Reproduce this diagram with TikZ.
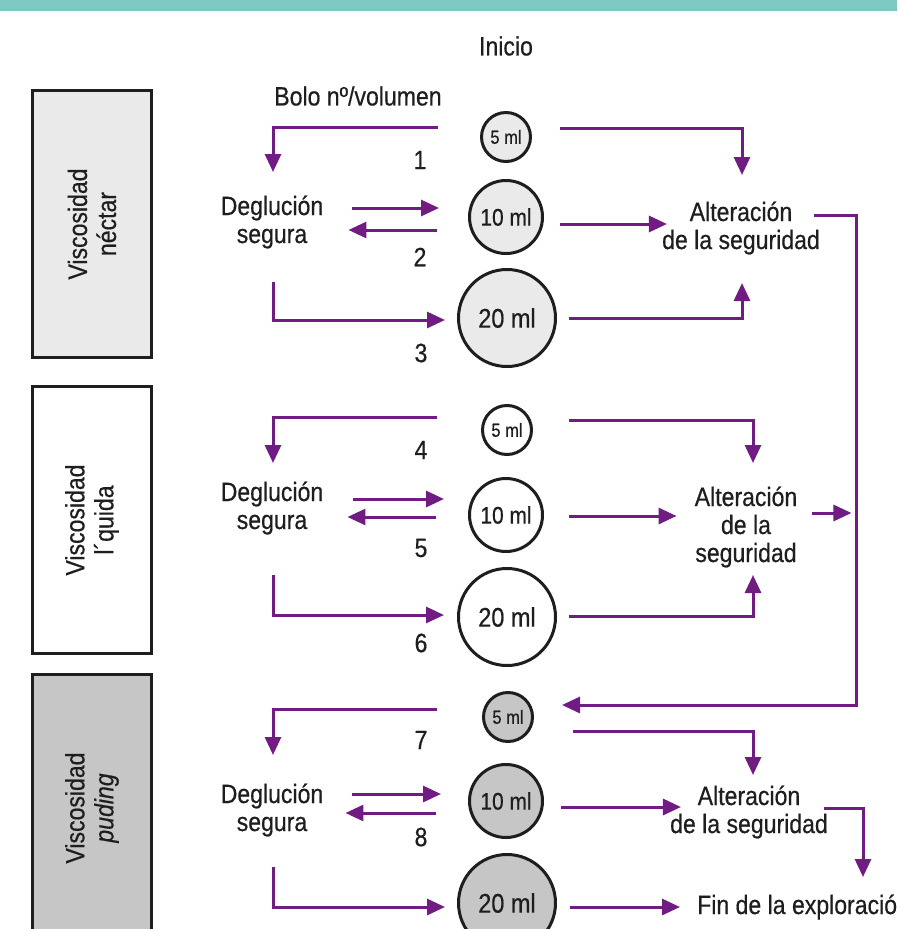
\documentclass[tikz,border=0pt]{standalone}
\usepackage{fontspec}
\setmainfont{Liberation Sans}[FakeStretch=0.87,FakeBold=0.5]
\usetikzlibrary{arrows.meta}
\definecolor{flowpurple}{RGB}{112,28,130}
\definecolor{bandteal}{RGB}{126,200,194}
\definecolor{inkgray}{RGB}{30,30,30}
\definecolor{nectargray}{RGB}{234,234,234}
\definecolor{pudinggray}{RGB}{198,198,198}

\begin{document}
\begin{tikzpicture}[x=1pt,y=-1pt,
  lbl/.style={inner sep=0pt,text=inkgray,align=center,font=\fontsize{26.5}{28}\selectfont},
  visc/.style={draw=inkgray,line width=3pt,rotate=90,minimum width=267pt,minimum height=119pt,
    align=center,text=inkgray,font=\fontsize{26.5}{29}\selectfont},
  vol/.style={circle,draw=inkgray,line width=3pt,inner sep=0pt,text=inkgray},
  vsmall/.style={vol,minimum size=49pt,font=\fontsize{19}{20}\selectfont},
  vmid/.style={vol,minimum size=73pt,font=\fontsize{24}{25}\selectfont},
  vbig/.style={vol,minimum size=97pt,font=\fontsize{27}{28}\selectfont},
  flow/.style={draw=flowpurple,line width=3pt,-{Triangle[length=18pt,width=16pt]}}]
  \useasboundingbox (0,0) rectangle (897,929);
  \clip (0,0) rectangle (897,929);
  \fill[white] (0,0) rectangle (897,929);
  \fill[bandteal] (0,0) rectangle (897,11);

  % viscosity boxes
  \node[visc,fill=nectargray] (nectar) at (92,224) {Viscosidad\\néctar};
  \node[visc,fill=white] (liquida) at (92,520) {Viscosidad\\l´quida};
  \node[visc,fill=pudinggray] (puding) at (92,808) {Viscosidad\\\textit{puding}};

  \node[lbl] (inicio) at (506,46) {Inicio};
  \node[lbl] (bolo) at (358,96) {Bolo nº/volumen};

  % bolus volumes
  \node[vsmall,fill=nectargray] (v5a) at (506,137) {5 ml};
  \node[vmid,fill=nectargray] (v10a) at (506,217) {10 ml};
  \node[vbig,fill=nectargray] (v20a) at (507,318) {20 ml};
  \node[vsmall,fill=white] (v5b) at (507,430) {5 ml};
  \node[vmid,fill=white] (v10b) at (506,515) {10 ml};
  \node[vbig,fill=white] (v20b) at (507,617) {20 ml};
  \node[vsmall,fill=pudinggray] (v5c) at (508,717) {5 ml};
  \node[vmid,fill=pudinggray] (v10c) at (506,801) {10 ml};
  \node[vbig,fill=pudinggray] (v20c) at (507,903) {20 ml};

  % bolus numbers
  \node[lbl] (n1) at (420,160) {1};
  \node[lbl] (n2) at (420,257) {2};
  \node[lbl] (n3) at (421,353) {3};
  \node[lbl] (n4) at (421,450) {4};
  \node[lbl] (n5) at (421,548) {5};
  \node[lbl] (n6) at (421,643) {6};
  \node[lbl] (n7) at (421,740) {7};
  \node[lbl] (n8) at (421,837) {8};
  \node[lbl] (n9) at (421,940) {9};

  \node[lbl] (dega) at (272,222) {Deglución\\segura};
  \node[lbl] (degb) at (272,508) {Deglución\\segura};
  \node[lbl] (degc) at (272,810) {Deglución\\segura};
  \node[lbl] (alta) at (741,228) {Alteración\\de la seguridad};
  \node[lbl] (altb) at (746,527) {Alteración\\de la\\seguridad};
  \node[lbl] (altc) at (749,812) {Alteración\\de la seguridad};
  \node[lbl,anchor=west] (fin) at (697,907) {Fin de la exploración};

  % nectar
  \draw[flow] ([shift={(-42,-10)}]v5a.west) -| ([shift={(1,-50)}]dega.center);
  \draw[flow] ([shift={(29,-14)}]dega.east) -- ([shift={(-29,-9)}]v10a.west);
  \draw[flow] ([shift={(-31,13)}]v10a.west) -- ([shift={(25,8)}]dega.east);
  \draw[flow] ([shift={(1,60)}]dega.center) |- ([shift={(-12,2)}]v20a.west);
  \draw[flow] ([shift={(28,-9)}]v5a.east) -| ([shift={(1,-53)}]alta.center);
  \draw[flow] ([shift={(16,7)}]v10a.east) -- ([shift={(5,-4)}]alta.west);
  \draw[flow] ([shift={(12,0)}]v20a.east) -| ([shift={(1,55)}]alta.center);
  \draw[flow] ([shift={(-6,-13)}]alta.east) -| ([shift={(322,-12)}]v5c.east)
    -- ([shift={(28,-12)}]v5c.east);

  % liquid
  \draw[flow] ([shift={(-44,-13)}]v5b.west) -| ([shift={(1,-45)}]degb.center);
  \draw[flow] ([shift={(30,-9)}]degb.east) -- ([shift={(-24,-16)}]v10b.west);
  \draw[flow] ([shift={(-32,2)}]v10b.west) -- ([shift={(24,9)}]degb.east);
  \draw[flow] ([shift={(1,67)}]degb.center) |- ([shift={(-13,-2)}]v20b.west);
  \draw[flow] ([shift={(36,-10)}]v5b.east) -| ([shift={(7,-64)}]altb.center);
  \draw[flow] ([shift={(25,1)}]v10b.east) -- ([shift={(-18,-11)}]altb.west);
  \draw[flow] ([shift={(12,-1)}]v20b.east) -| ([shift={(7,48)}]altb.center);
  \draw[flow] ([shift={(15,-14)}]altb.east) -- ([shift={(54,-14)}]altb.east);

  % puding
  \draw[flow] ([shift={(-45,-8)}]v5c.west) -| ([shift={(1,-55)}]degc.center);
  \draw[flow] ([shift={(29,-16)}]degc.east) -- ([shift={(-27,-7)}]v10c.west);
  \draw[flow] ([shift={(-32,12)}]v10c.west) -- ([shift={(22,3)}]degc.east);
  \draw[flow] ([shift={(1,57)}]degc.center) |- ([shift={(-12,4)}]v20c.west);
  \draw[flow] ([shift={(39,14)}]v5c.east) -| ([shift={(4,-37)}]altc.center);
  \draw[flow] ([shift={(17,6)}]v10c.east) -- ([shift={(11,-5)}]altc.west);
  \draw[flow] ([shift={(-4,-4)}]altc.east) -| ([shift={(166,-30)}]fin.west);
  \draw[flow] ([shift={(12.5,4)}]v20c.east) -- ([xshift=-17pt]fin.west);
\end{tikzpicture}
\end{document}
